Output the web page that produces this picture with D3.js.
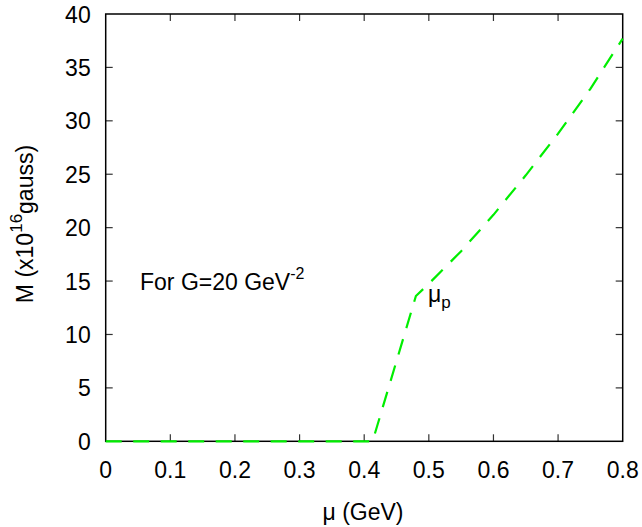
<!DOCTYPE html>
<html><head><meta charset="utf-8">
<script src="https://cdn.jsdelivr.net/npm/d3@7"></script>
<style>body{margin:0;background:#fff}svg{display:block}text{font-family:"Liberation Sans",Arial,sans-serif;fill:#000}</style>
</head><body><svg id="c" width="642" height="527"></svg>
<script>
const muValues = [0, 0.1, 0.2, 0.3, 0.4, 0.413, 0.48, 0.5, 0.55, 0.6, 0.65, 0.7, 0.75, 0.8];
const mValues  = [0, 0, 0, 0, 0, 0, 13.6, 14.75, 17.8, 21.2, 24.9, 28.8, 33.0, 37.7];
const xTicks = [0, 0.1, 0.2, 0.3, 0.4, 0.5, 0.6, 0.7, 0.8];
const yTicks = [0, 5, 10, 15, 20, 25, 30, 35, 40];

const svg = d3.select("#c");
const L = 105.7, R = 622.7, T = 14, B = 441.3;
const x = d3.scaleLinear().domain([0, 0.8]).range([L, R]);
const y = d3.scaleLinear().domain([0, 40]).range([B, T]);
const fs = 23;

const tk = 7;
const g = svg.append("g");
const fmtX = d => d === 0 ? "0" : d3.format(".1f")(d);
xTicks.forEach(t => {
  if (t > 0 && t < 0.8) {
    g.append("line").attr("x1", x(t)).attr("x2", x(t)).attr("y1", B).attr("y2", B - tk).attr("stroke", "#333").attr("stroke-width", 1.2);
    g.append("line").attr("x1", x(t)).attr("x2", x(t)).attr("y1", T).attr("y2", T + tk).attr("stroke", "#333").attr("stroke-width", 1.2);
  }
  g.append("text").attr("x", x(t)).attr("y", B + 37).attr("text-anchor", "middle").attr("font-size", fs).text(fmtX(t));
});
yTicks.forEach(t => {
  if (t > 0 && t < 40) {
    g.append("line").attr("x1", L).attr("x2", L + tk).attr("y1", y(t)).attr("y2", y(t)).attr("stroke", "#333").attr("stroke-width", 1.2);
    g.append("line").attr("x1", R).attr("x2", R - tk).attr("y1", y(t)).attr("y2", y(t)).attr("stroke", "#333").attr("stroke-width", 1.2);
  }
  g.append("text").attr("x", L - 15).attr("y", y(t) + 8.5).attr("text-anchor", "end").attr("font-size", fs).text(t);
});

svg.append("rect").attr("x", L).attr("y", T).attr("width", R - L).attr("height", B - T)
  .attr("fill", "none").attr("stroke", "#000").attr("stroke-width", 1.5);

const data = muValues.map((m, i) => [m, mValues[i]]);
svg.append("path").datum(data)
  .attr("d", d3.line().x(d => x(d[0])).y(d => y(d[1])).curve(d3.curveLinear))
  .attr("fill", "none").attr("stroke", "#00ee00").attr("stroke-width", 2.2)
  .attr("stroke-dasharray", "16,11.5");

const ann = svg.append("text").attr("x", 140).attr("y", 290).attr("font-size", fs);
ann.append("tspan").text("For G=20 GeV");
ann.append("tspan").attr("dy", -11).attr("font-size", 16).text("-2");

const mp = svg.append("text").attr("x", 428).attr("y", 302).attr("font-size", fs);
mp.append("tspan").text("μ");
mp.append("tspan").attr("dy", 6).attr("font-size", 17).text("p");

svg.append("text").attr("x", 363).attr("y", 520).attr("text-anchor", "middle").attr("font-size", fs).text("μ (GeV)");
const yt = svg.append("text").attr("transform", "translate(33,224) rotate(-90)").attr("text-anchor", "middle").attr("font-size", fs);
yt.append("tspan").text("M (x10");
yt.append("tspan").attr("dy", -11).attr("font-size", 17).text("16");
yt.append("tspan").attr("dy", 11).text("gauss)");
</script></body></html>
